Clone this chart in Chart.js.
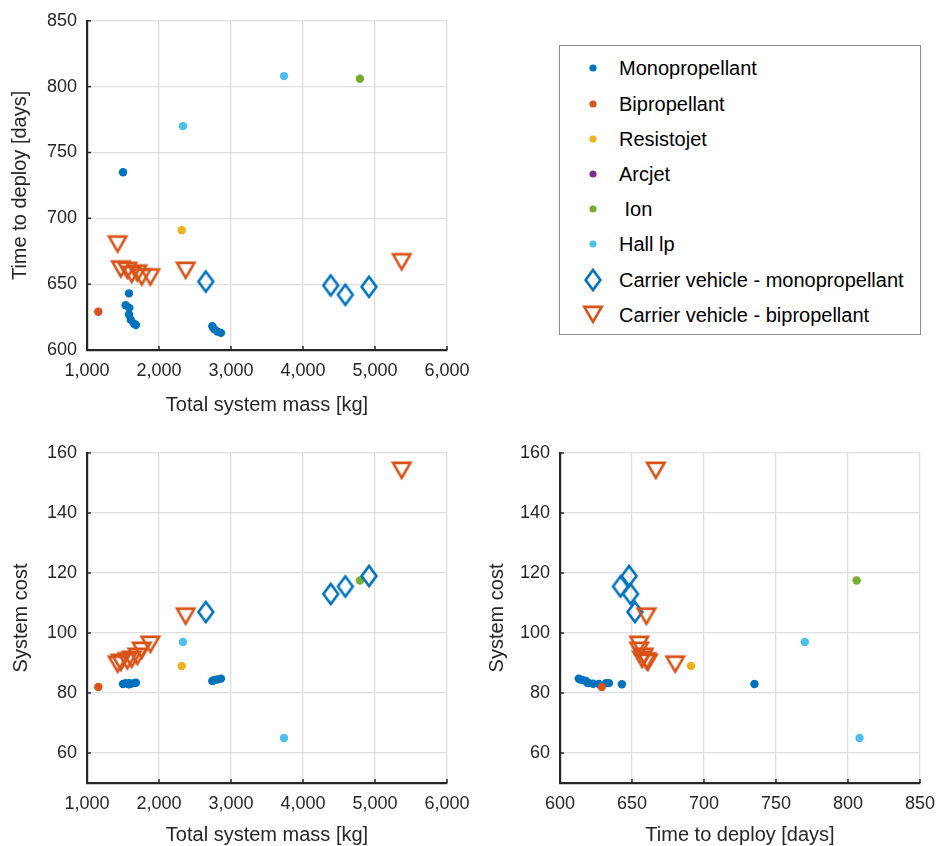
<!DOCTYPE html>
<html>
<head>
<meta charset="utf-8">
<script src="https://cdn.jsdelivr.net/npm/chart.js@4.4.0/dist/chart.umd.min.js"></script>
<style>
body { margin: 0; background: #fff; width: 940px; height: 846px; position: relative; overflow: hidden; font-family: "Liberation Sans", Arial, sans-serif; }
.box { position: absolute; }
#legend { position: absolute; left: 559px; top: 45px; width: 362px; height: 290px; border: 1px solid #8c8c8c; box-sizing: border-box; background: #fff; }
.row { position: absolute; left: 0; height: 30px; width: 360px; }
.row canvas { position: absolute; left: 18px; top: 0; }
.row span { position: absolute; left: 59px; top: 0; line-height: 30px; font-size: 20px; color: #000; white-space: pre; }
</style>
</head>
<body>
<div class="box" style="left:0;top:0"><canvas id="c1" width="510" height="430"></canvas></div>
<div class="box" style="left:0;top:430px"><canvas id="c2" width="510" height="416"></canvas></div>
<div class="box" style="left:470px;top:430px"><canvas id="c3" width="510" height="416"></canvas></div>
<div id="legend"></div>
<script>
// series names and colours (MATLAB default order)
const names = ['Monopropellant', 'Bipropellant', 'Resistojet', 'Arcjet', ' Ion', 'Hall lp',
  'Carrier vehicle - monopropellant', 'Carrier vehicle - bipropellant'];
const colors = ['#0072BD', '#D95319', '#EDB120', '#7E2F8E', '#77AC30', '#4DBEEE', '#0072BD', '#D95319'];

// Total system mass [kg]
const massMono = [1500, 1583, 1537, 1588, 1583, 1607, 1653, 1680, 2740, 2764, 2810, 2861];
const massBi = [1157];
const massResisto = [2315];
const massArc = [];
const massIon = [4790];
const massHall = [3736, 2333];
const massCarrierMono = [2650, 4385, 4588, 4917];
const massCarrierBi = [1425, 1470, 1560, 1620, 1700, 1760, 1880, 2370, 5370];

// Time to deploy [days]
const timeMono = [735, 643, 634, 632, 627, 623, 620, 619, 618, 616, 614, 613];
const timeBi = [629];
const timeResisto = [691];
const timeArc = [];
const timeIon = [806];
const timeHall = [808, 770];
const timeCarrierMono = [652, 649, 642, 648];
const timeCarrierBi = [680, 661, 660, 657, 658, 655, 655, 660, 666.5];

// System cost
const costMono = [83.0, 82.9, 83.3, 83.3, 83.0, 83.1, 83.3, 83.4, 84.0, 84.3, 84.5, 84.8];
const costBi = [82];
const costResisto = [89];
const costArc = [];
const costIon = [117.5];
const costHall = [65, 97];
const costCarrierMono = [107, 113, 115.5, 119];
const costCarrierBi = [89.4, 90, 90.5, 91, 92, 94, 96, 105.4, 154];

// tick labels
const massTicks = [1000, 2000, 3000, 4000, 5000, 6000];
const timeTicks = [600, 650, 700, 750, 800, 850];
const costTicks = [60, 80, 100, 120, 140, 160];

const mass = [massMono, massBi, massResisto, massArc, massIon, massHall, massCarrierMono, massCarrierBi];
const time = [timeMono, timeBi, timeResisto, timeArc, timeIon, timeHall, timeCarrierMono, timeCarrierBi];
const cost = [costMono, costBi, costResisto, costArc, costIon, costHall, costCarrierMono, costCarrierBi];

// hollow marker images
function diamondImg() {
  const c = document.createElement('canvas');
  c.width = 24; c.height = 30;
  const g = c.getContext('2d');
  g.strokeStyle = '#0072BD'; g.lineWidth = 2.6; g.lineJoin = 'miter';
  g.beginPath();
  g.moveTo(12, 5); g.lineTo(19.4, 15); g.lineTo(12, 25); g.lineTo(4.6, 15); g.closePath();
  g.stroke();
  return c;
}
function triangleImg() {
  const c = document.createElement('canvas');
  c.width = 26; c.height = 26;
  const g = c.getContext('2d');
  g.strokeStyle = '#D95319'; g.lineWidth = 2.6; g.lineJoin = 'miter';
  g.beginPath();
  g.moveTo(4.3, 4.85); g.lineTo(21.7, 4.85); g.lineTo(13, 19.85); g.closePath();
  g.stroke();
  return c;
}
const diamond = diamondImg();
const triangle = triangleImg();

function datasets(xs, ys) {
  return names.map((n, i) => {
    const ds = {
      label: n,
      data: xs[i].map((x, j) => ({ x: x, y: ys[i][j] })),
      order: names.length - i
    };
    if (i === 6 || i === 7) {
      ds.pointStyle = i === 6 ? diamond : triangle;
      ds.pointRadius = 10;
    } else {
      ds.pointStyle = 'circle';
      ds.pointRadius = 4.2;
      ds.pointBackgroundColor = colors[i];
      ds.pointBorderWidth = 0;
    }
    return ds;
  });
}

const FONT = '"Liberation Sans", Arial, sans-serif';
const TXT = '#262626';

const inwardTicks = {
  id: 'inwardTicks',
  afterDraw(chart) {
    const ctx = chart.ctx;
    const a = chart.chartArea;
    ctx.save();
    ctx.strokeStyle = TXT;
    ctx.lineWidth = 1.5;
    chart.scales.x.ticks.forEach(t => {
      const px = chart.scales.x.getPixelForValue(t.value);
      ctx.beginPath(); ctx.moveTo(px, a.bottom); ctx.lineTo(px, a.bottom - 4); ctx.stroke();
    });
    chart.scales.y.ticks.forEach(t => {
      const py = chart.scales.y.getPixelForValue(t.value);
      ctx.beginPath(); ctx.moveTo(a.left, py); ctx.lineTo(a.left + 4, py); ctx.stroke();
    });
    ctx.restore();
  }
};

function axis(min, max, ticks, title, pad) {
  return {
    type: 'linear',
    min: min,
    max: max,
    afterBuildTicks: s => { s.ticks = ticks.map(v => ({ value: v })); },
    ticks: {
      color: TXT,
      font: { family: FONT, size: 18 },
      padding: 10,
      maxRotation: 0,
      autoSkip: false,
      callback: v => v.toLocaleString('en-US')
    },
    grid: { color: '#dedede', lineWidth: 1.3, drawTicks: false },
    border: { display: true, color: TXT, width: 2.2 },
    title: { display: true, text: title, color: TXT, font: { family: FONT, size: 20 }, padding: pad }
  };
}

function makeChart(id, xs, ys, xAxis, yAxis, area) {
  const cv = document.getElementById(id);
  const W = cv.width, H = cv.height;
  xAxis.afterFit = s => { s.height = H - area.bottom; };
  yAxis.afterFit = s => { s.width = area.left; };
  new Chart(cv, {
    type: 'scatter',
    data: { datasets: datasets(xs, ys) },
    options: {
      responsive: false,
      animation: false,
      layout: { padding: { left: 0, top: area.top, right: W - area.right, bottom: 0 } },
      plugins: { legend: { display: false }, tooltip: { enabled: false } },
      scales: { x: xAxis, y: yAxis }
    },
    plugins: [inwardTicks]
  });
}

makeChart('c1', mass, time,
  axis(1000, 6000, massTicks, 'Total system mass [kg]', { top: 0, bottom: 13 }),
  axis(600, 850, timeTicks, 'Time to deploy [days]', { top: 8, bottom: 0 }),
  { left: 87, top: 18.5, right: 447, bottom: 350 });

makeChart('c2', mass, cost,
  axis(1000, 6000, massTicks, 'Total system mass [kg]', { top: 0, bottom: -1 }),
  axis(50, 160, costTicks, 'System cost', { top: 9, bottom: 0 }),
  { left: 87, top: 23, right: 447, bottom: 353 });

makeChart('c3', time, cost,
  axis(600, 850, timeTicks, 'Time to deploy [days]', { top: 0, bottom: -1 }),
  axis(50, 160, costTicks, 'System cost', { top: 15, bottom: 0 }),
  { left: 90, top: 23, right: 450, bottom: 353 });

// legend
const legend = document.getElementById('legend');
names.forEach((n, i) => {
  const row = document.createElement('div');
  row.className = 'row';
  row.style.top = (23.3 - 15 + i * 35.2 - 1) + 'px';
  const c = document.createElement('canvas');
  c.width = 30; c.height = 30;
  const g = c.getContext('2d');
  if (i === 6) g.drawImage(diamond, 15 - diamond.width / 2, 15 - diamond.height / 2);
  else if (i === 7) g.drawImage(triangle, 15 - triangle.width / 2, 15 - triangle.height / 2);
  else { g.fillStyle = colors[i]; g.beginPath(); g.arc(15, 15, 3.6, 0, Math.PI * 2); g.fill(); }
  const s = document.createElement('span');
  s.textContent = n;
  row.appendChild(c);
  row.appendChild(s);
  legend.appendChild(row);
});
</script>
</body>
</html>
